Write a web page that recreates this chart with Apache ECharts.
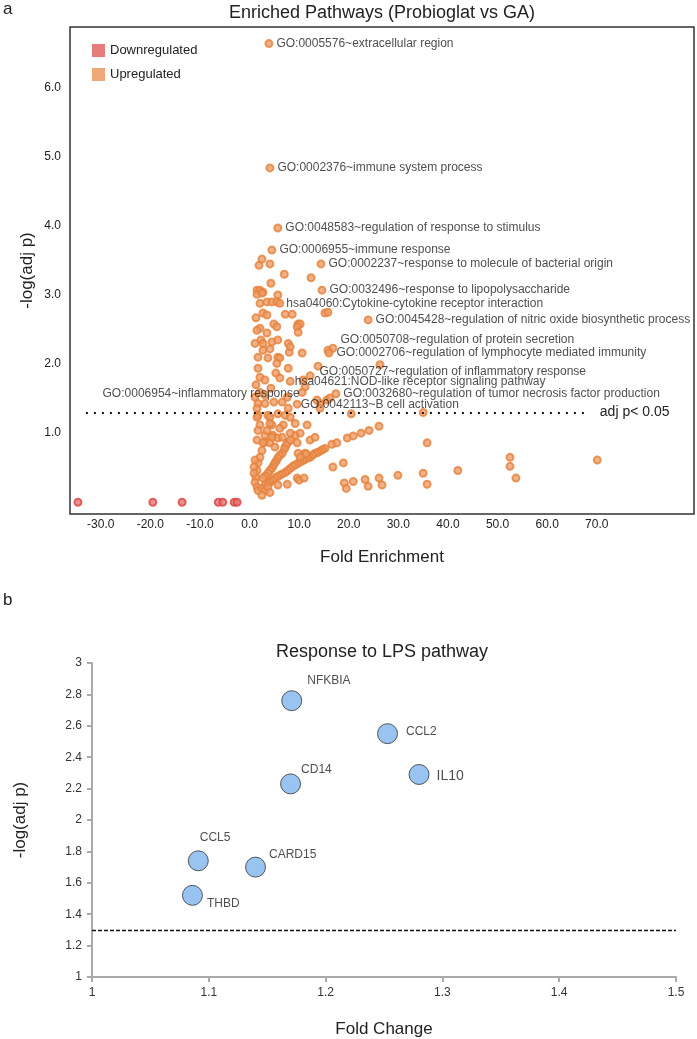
<!DOCTYPE html>
<html><head><meta charset="utf-8">
<script src="https://cdn.jsdelivr.net/npm/echarts@6/dist/echarts.min.js"></script>
<style>html,body{margin:0;padding:0;background:#fff}#c{width:697px;height:1039px}</style>
</head><body><div id="c"></div><script>
// ---------- Panel a data ----------
const downFold = [-34.6, -19.5, -13.6, -6.3, -5.4, -3.1, -2.5];
const downLogP = [0, 0, 0, 0, 0, 0, 0];

const pathwayNames = [
  'GO:0005576~extracellular region',
  'GO:0002376~immune system process',
  'GO:0048583~regulation of response to stimulus',
  'GO:0006955~immune response',
  'GO:0002237~response to molecule of bacterial origin',
  'GO:0032496~response to lipopolysaccharide',
  'hsa04060:Cytokine-cytokine receptor interaction',
  'GO:0045428~regulation of nitric oxide biosynthetic process',
  'GO:0050708~regulation of protein secretion',
  'GO:0002706~regulation of lymphocyte mediated immunity',
  'GO:0050727~regulation of inflammatory response',
  'hsa04621:NOD-like receptor signaling pathway',
  'GO:0006954~inflammatory response',
  'GO:0032680~regulation of tumor necrosis factor production',
  'GO:0042113~B cell activation'
];
const pathwayFold = [3.9, 4.1, 5.7, 4.5, 14.4, 14.6, 6.1, 23.9, 16.8, 16.0, 13.8, 8.2, 10.6, 17.4, 9.6];
const pathwayLogP = [6.64, 4.84, 3.97, 3.65, 3.45, 3.07, 2.88, 2.64, 2.23, 2.16, 1.97, 1.75, 1.59, 1.57, 1.42];

const upPoints = [
  [2.5,3.52],[1.9,3.43],[4.1,3.45],[7.0,3.30],[12.4,3.25],[4.3,3.17],[1.5,3.07],[2.1,3.07],[2.7,3.04],[1.5,3.01],
  [2.5,3.03],[5.7,3.00],[2.1,2.88],[3.5,2.90],[4.5,2.90],[5.5,2.90],[2.7,2.74],[3.5,2.71],[7.2,2.72],[8.6,2.72],
  [15.2,2.74],[15.8,2.75],[4.9,2.58],[9.8,2.58],[10.2,2.58],[2.1,2.52],[5.5,2.54],[9.6,2.54],[9.8,2.46],[3.5,2.45],
  [2.3,2.35],[2.7,2.30],[4.5,2.32],[5.7,2.35],[7.8,2.30],[2.7,2.20],[4.1,2.22],[5.7,2.10],[6.1,2.09],[1.7,2.10],
  [3.7,2.09],[5.5,2.01],[1.7,1.94],[5.3,1.87],[7.8,1.94],[2.1,1.81],[3.1,1.77],[6.1,1.80],[10.8,1.77],[11.2,1.67],
  [2.1,1.59],[3.1,1.55],[1.1,1.52],[1.7,1.43],[3.1,1.43],[4.9,1.45],[6.6,1.45],[7.6,1.52],[15.8,2.20],[15.6,1.48],
  [14.2,1.43],[8.0,2.17],[8.2,2.25],[10.6,2.16],[12.2,1.83],[4.3,1.65],[7.8,1.36],[13.6,1.48],[16.2,1.51],[14.2,1.36],
  [26.3,1.99],[20.5,1.28],[35.0,1.30],[1.3,2.67],[1.5,2.49],[1.1,2.30],[1.3,1.70],[1.5,1.36],
  [16.6,0.84],[17.6,0.86],[19.7,0.93],[20.9,0.96],[22.5,1.00],[24.1,1.04],[26.1,1.10],[35.8,0.86],[52.5,0.65],[52.5,0.52],
  [53.7,0.35],[70.1,0.61],[42.0,0.46],[29.9,0.39],[35.0,0.42],[35.8,0.26],[16.8,0.51],[18.9,0.57],[19.1,0.28],[19.5,0.20],
  [20.9,0.30],[23.3,0.33],[23.9,0.23],[26.1,0.35],[26.7,0.25],
  [1.7,1.26],[3.7,1.26],[5.7,1.28],[7.2,1.26],[1.5,1.23],[4.1,1.23],[8.2,1.23],[2.1,1.12],[4.5,1.12],[6.8,1.12],
  [9.2,1.14],[11.6,1.12],[1.7,1.04],[3.1,0.97],[4.7,0.97],[9.2,0.97],[5.7,0.93],[10.2,1.00],[6.1,1.07],[8.2,1.00],
  [1.5,0.90],[3.1,0.87],[4.1,0.86],[5.1,0.80],[7.8,0.87],[9.6,0.86],[9.8,0.71],[11.2,0.71],[7.2,0.80],[4.5,0.94],[6.6,0.94],
  [15.2,0.78],[14.7,0.76],[14.2,0.74],[13.7,0.72],[13.2,0.71],[12.7,0.68],[12.2,0.65],[11.7,0.64],[11.2,0.62],[10.7,0.60],
  [10.2,0.58],[9.7,0.56],[9.2,0.54],[8.7,0.52],[8.2,0.49],[7.7,0.46],[7.2,0.43],[6.6,0.41],[6.1,0.39],[5.6,0.37],
  [5.1,0.35],[4.6,0.32],[4.1,0.29],[3.6,0.27],[3.1,0.25],
  [8.2,0.90],[7.4,0.83],[7.0,0.77],[6.6,0.71],[6.1,0.68],[5.7,0.64],[5.4,0.60],[5.1,0.57],[4.8,0.53],[4.5,0.49],
  [4.1,0.46],[3.7,0.42],[3.2,0.38],[2.7,0.35],
  [4.1,1.14],[3.5,1.04],[2.7,0.86],[2.5,0.75],[2.1,0.65],[1.7,0.57],[1.5,0.46],
  [1.1,0.61],[0.9,0.51],[1.3,0.36],[1.1,0.29],[1.5,0.22],[1.7,0.17],[2.5,0.20],[3.1,0.17],[0.9,0.42],
  [3.7,0.22],[5.7,0.25],[7.6,0.26],[9.6,0.35],[10.0,0.32],[11.0,0.35],[10.2,0.65],[11.4,0.70],[2.5,0.10],[4.1,0.14],
  [12.2,0.90],[13.2,0.94]
];
const upFold = upPoints.map(p => p[0]);
const upLogP = upPoints.map(p => p[1]);

const enrichXTicks = [-30, -20, -10, 0, 10, 20, 30, 40, 50, 60, 70];
const enrichYTicks = [1, 2, 3, 4, 5, 6];
const enrichThreshold = 1.3;

// ---------- Panel b data ----------
const genes = ['NFKBIA', 'CCL2', 'IL10', 'CD14', 'CCL5', 'CARD15', 'THBD'];
const geneFC = [1.171, 1.253, 1.280, 1.170, 1.091, 1.140, 1.086];
const geneLogP = [2.76, 2.55, 2.29, 2.23, 1.74, 1.70, 1.52];
const lpsThreshold = 1.3;

// ---------- styling ----------
const FONT = '"Liberation Sans", Arial, Helvetica, sans-serif';
const labelTweaks = {
  6: {offset: [-1, 0]},
  8: {offset: [0, -9]},
  10: {offset: [-6, 6]},
  11: {offset: [-3, 0]},
  12: {position: 'left', offset: [5, 1]},
  14: {offset: [-4, 1]}
};
const geneLabelStyle = {
  NFKBIA: {distance: 5, offset: [0, -20]},
  CD14: {distance: 0, offset: [0, -14]},
  CCL5: {distance: 0, offset: [-9, -23]},
  CARD15: {distance: 3, offset: [0, -12]},
  THBD: {distance: 4, offset: [0, 8]},
  CCL2: {distance: 8, offset: [0, -2]},
  IL10: {distance: 7, offset: [0, 2], fontSize: 14}
};

const orangeStyle = {color: '#ee9c66', borderColor: '#e6823c', borderWidth: 2};
const redStyle = {color: '#e97474', borderColor: '#d94444', borderWidth: 2};

const chart = echarts.init(document.getElementById('c'), null, {renderer: 'canvas'});
const option = {
  animation: false,
  textStyle: {fontFamily: FONT},
  grid: [
    {left: 70, top: 27, width: 624, height: 487, show: true, borderColor: '#333', borderWidth: 1.5, backgroundColor: 'transparent'},
    {left: 92, top: 663, width: 584, height: 314}
  ],
  legend: {
    orient: 'vertical', left: 87, top: 39, itemGap: 11, icon: 'rect',
    itemWidth: 13, itemHeight: 13,
    textStyle: {fontSize: 13, color: '#222', fontFamily: FONT},
    data: [
      {name: 'Downregulated', itemStyle: {color: '#e05a5a', borderWidth: 0}},
      {name: 'Upregulated', itemStyle: {color: '#ec9259', borderWidth: 0}}
    ]
  },
  xAxis: [
    {
      gridIndex: 0, type: 'value', min: -36.2, max: 89.6,
      splitLine: {show: false}, axisLine: {show: false}, axisTick: {show: false},
      axisLabel: {customValues: enrichXTicks, formatter: v => v.toFixed(1), fontSize: 12, color: '#222', margin: 5, fontFamily: FONT},
      name: 'Fold Enrichment', nameLocation: 'middle', nameGap: 35,
      nameTextStyle: {fontSize: 17, color: '#222', fontFamily: FONT}
    },
    {
      gridIndex: 1, type: 'value', min: 1, max: 1.5, interval: 0.1,
      splitLine: {show: false},
      axisLine: {show: true, lineStyle: {color: '#aaa', width: 2}},
      axisTick: {show: true, length: 5, lineStyle: {color: '#aaa', width: 2}},
      axisLabel: {fontSize: 12, color: '#333', margin: 10, fontFamily: FONT},
      name: 'Fold Change', nameLocation: 'middle', nameGap: 44,
      nameTextStyle: {fontSize: 17, color: '#222', fontFamily: FONT}
    }
  ],
  yAxis: [
    {
      gridIndex: 0, type: 'value', min: -0.17, max: 6.88,
      splitLine: {show: false}, axisLine: {show: false}, axisTick: {show: false},
      axisLabel: {customValues: enrichYTicks, formatter: v => v.toFixed(1), fontSize: 12, color: '#222', margin: 9, fontFamily: FONT},
      name: '-log(adj p)', nameLocation: 'middle', nameGap: 34, nameMoveOverlap: false,
      nameTextStyle: {fontSize: 17, color: '#222', fontFamily: FONT}
    },
    {
      gridIndex: 1, type: 'value', min: 1, max: 3, interval: 0.2,
      splitLine: {show: false},
      axisLine: {show: true, lineStyle: {color: '#aaa', width: 2}},
      axisTick: {show: true, length: 5, lineStyle: {color: '#aaa', width: 2}},
      axisLabel: {fontSize: 12, color: '#333', margin: 10, fontFamily: FONT},
      name: '-log(adj p)', nameLocation: 'middle', nameGap: 63,
      nameTextStyle: {fontSize: 17, color: '#222', fontFamily: FONT}
    }
  ],
  graphic: [
    {type: 'text', x: 3, y: 1, style: {text: 'a', font: '17px ' + FONT, fill: '#222'}},
    {type: 'text', x: 3, y: 592, style: {text: 'b', font: '17px ' + FONT, fill: '#222'}},
    {type: 'text', x: 382, y: 4, style: {text: 'Enriched Pathways (Probioglat vs GA)', font: '18px ' + FONT, fill: '#222', textAlign: 'center'}},
    {type: 'text', x: 382, y: 643, style: {text: 'Response to LPS pathway', font: '18px ' + FONT, fill: '#222', textAlign: 'center'}}
  ],
  series: [
    {
      name: 'Downregulated', type: 'scatter', xAxisIndex: 0, yAxisIndex: 0,
      symbolSize: 7, itemStyle: redStyle,
      data: downFold.map((x, i) => [x, downLogP[i]])
    },
    {
      name: 'Upregulated', type: 'scatter', xAxisIndex: 0, yAxisIndex: 0,
      symbolSize: 7, itemStyle: orangeStyle,
      data: upFold.map((x, i) => [x, upLogP[i]]),
      markLine: {
        silent: true, symbol: 'none', animation: false,
        lineStyle: {type: [2, 6], width: 2, color: '#111'},
        label: {show: true, position: 'end', distance: 10, formatter: 'adj p< 0.05', fontSize: 14, color: '#222', fontFamily: FONT},
        data: [[{coord: [-33, enrichThreshold]}, {coord: [68.6, enrichThreshold]}]]
      }
    },
    {
      name: 'Upregulated', type: 'scatter', xAxisIndex: 0, yAxisIndex: 0,
      symbolSize: 7, itemStyle: orangeStyle, z: 3,
      label: {show: true, position: 'right', distance: 3, fontSize: 12, color: '#222', fontFamily: FONT, formatter: p => p.name},
      data: pathwayNames.map((n, i) => Object.assign({name: n, value: [pathwayFold[i], pathwayLogP[i]]},
        labelTweaks[i] ? {label: labelTweaks[i]} : {}))
    },
    {
      name: 'LPS', type: 'scatter', xAxisIndex: 1, yAxisIndex: 1,
      symbolSize: 20,
      itemStyle: {color: '#80b4ee', borderColor: '#333', borderWidth: 1},
      label: {show: true, position: 'right', fontSize: 12, color: '#222', fontFamily: FONT, formatter: p => p.name},
      data: genes.map((g, i) => ({name: g, value: [geneFC[i], geneLogP[i]], label: geneLabelStyle[g]})),
      markLine: {
        silent: true, symbol: 'none', animation: false,
        lineStyle: {type: [4, 2], width: 1.3, color: '#111'},
        label: {show: false},
        data: [{yAxis: lpsThreshold}]
      }
    }
  ]
};
chart.setOption(option);
</script></body></html>
